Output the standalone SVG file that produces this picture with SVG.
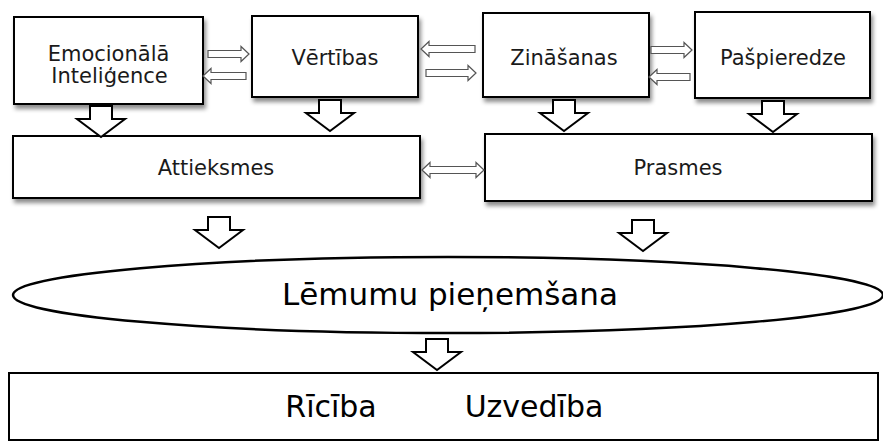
<svg xmlns="http://www.w3.org/2000/svg" width="883" height="441" viewBox="0 0 883 441">
  <style>
    .box { fill: #ffffff; stroke: #000000; stroke-width: 2; }
    .shadowed { filter: url(#shadow); }
    .lbl { font-family: "DejaVu Sans", Verdana, sans-serif; font-size: 21px; fill: #1a1a1a; text-anchor: middle; }
    .big { font-family: "DejaVu Sans", Verdana, sans-serif; font-size: 31px; fill: #000000; text-anchor: middle; }
    .mid { font-family: "DejaVu Sans", Verdana, sans-serif; font-size: 30px; fill: #000000; text-anchor: middle; }
    .block { fill: #ffffff; stroke: #000000; stroke-width: 2; stroke-linejoin: miter; }
    .thin { fill: #ffffff; stroke: #555555; stroke-width: 1.2; }
  </style>
  <defs>
    <filter id="shadow" x="-5%" y="-10%" width="115%" height="130%">
      <feDropShadow dx="2" dy="4" stdDeviation="2" flood-color="#000000" flood-opacity="0.45"/>
    </filter>
    <!-- hollow block arrow pointing down, origin at top centre of the shaft -->
    <path id="down" class="block" d="M-11,0 H11 V13 H24 L0,31 L-24,13 H-11 Z"/>
  </defs>

  <rect width="883" height="441" fill="#ffffff"/>

  <g id="emocionala">
    <rect class="box shadowed" x="14" y="17" width="189" height="87"/>
    <text class="lbl" x="108.5" y="61">Emocionālā</text>
    <text class="lbl" x="109.5" y="83">Inteliģence</text>
  </g>
  <g id="vertibas">
    <rect class="box shadowed" x="252" y="16" width="166" height="81"/>
    <text class="lbl" x="335" y="65">Vērtības</text>
  </g>
  <g id="zinasanas">
    <rect class="box shadowed" x="483" y="13" width="166" height="84"/>
    <text class="lbl" x="564" y="65">Zināšanas</text>
  </g>
  <g id="paspieredze">
    <rect class="box shadowed" x="695" y="12" width="175" height="86"/>
    <text class="lbl" x="783" y="65">Pašpieredze</text>
  </g>
  <g id="attieksmes">
    <rect class="box shadowed" x="13" y="136" width="407" height="62"/>
    <text class="lbl" x="216" y="175">Attieksmes</text>
  </g>
  <g id="prasmes">
    <rect class="box shadowed" x="485" y="134" width="387" height="67"/>
    <text class="lbl" x="678" y="175">Prasmes</text>
  </g>
  <g id="lemumu">
    <ellipse cx="448" cy="295" rx="435" ry="38" fill="#ffffff" stroke="#000000" stroke-width="2.5"/>
    <text class="big" x="450" y="305">Lēmumu pieņemšana</text>
  </g>
  <g id="riciba">
    <rect x="9" y="373" width="869" height="67" fill="#ffffff" stroke="#000000" stroke-width="2"/>
    <text class="mid" x="331" y="417">Rīcība</text>
    <text class="mid" x="534" y="417">Uzvedība</text>
  </g>

  <g id="connectors">
    <!-- thin hollow arrows between neighbouring boxes -->
    <path class="thin" d="M208,50.5 H241 V46.5 L249,54 L241,61.5 V57.5 H208 Z"/>
    <path class="thin" d="M246,72.5 H211 V68.5 L203,76 L211,83.5 V79.5 H246 Z"/>
    <path class="thin" d="M475,45.5 H429 V41.5 L421,49 L429,56.5 V52.5 H475 Z"/>
    <path class="thin" d="M426,69.5 H468 V65.5 L476,73 L468,80.5 V76.5 H426 Z"/>
    <path class="thin" d="M651,46.5 H684 V42.5 L692,50 L684,57.5 V53.5 H651 Z"/>
    <path class="thin" d="M690,73.5 H657 V69.5 L649,77 L657,84.5 V80.5 H690 Z"/>
    <path class="thin" d="M422,170 L430,162.5 V166.5 H476 V162.5 L484,170 L476,177.5 V173.5 H430 V177.5 Z"/>
    <!-- block arrows downwards -->
    <use href="#down" x="101" y="106"/>
    <use href="#down" x="330" y="100"/>
    <use href="#down" x="564" y="100"/>
    <use href="#down" x="773" y="101"/>
    <use href="#down" x="219" y="217"/>
    <use href="#down" x="643" y="220"/>
    <use href="#down" x="437" y="339"/>
  </g>
</svg>
